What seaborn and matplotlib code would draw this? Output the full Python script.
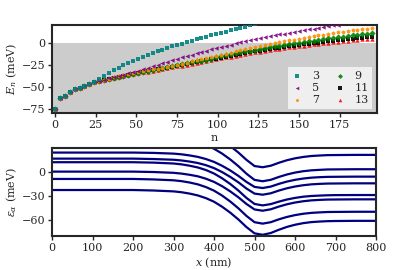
import numpy as np
import pandas as pd
import matplotlib
matplotlib.use("Agg")
import matplotlib.pyplot as plt
import seaborn as sns
from matplotlib.ticker import MultipleLocator

sns.set_style("ticks")
plt.rcParams["font.family"] = ["DejaVu Serif"]
plt.rcParams["mathtext.fontset"] = "dejavuserif"
plt.rcParams["font.size"] = 8
plt.rcParams["axes.linewidth"] = 1.5

# ---------------------------------------------------------------------------
# top panel: E_n vs n for several sizes
# ---------------------------------------------------------------------------
n_all = list(range(0, 196, 3))
start = [-75.6, -62.5, -61, -56.5, -53, -51, -49.2, -47.5, -45.2]

E3 = [-75.6, -62.5, -61, -56.5, -53, -51, -49.2, -47.5, -44.5,
      -41, -37.5, -34.5, -31.5, -28.5, -25.8, -23.2, -20.5, -18, -15.8,
      -13.6, -11.5, -9.6, -7.8, -6, -4.3, -2.6, -1, 0.6, 2.2,
      3.8, 5.3, 6.8, 8.3, 9.8, 11.2, 12.6, 14, 15.4, 16.8,
      18.2, 19.6, 21]
E5 = start + [-43.5, -42, -40.5, -39, -37.6, -36.2, -34.8, -33.4, -32, -30.5,
              -28.8, -27, -25.2, -23.4, -21.7, -20, -18.3, -16.7, -15.1, -13.5,
              -12, -10.5, -9, -7.6, -6.2, -4.8, -3.4, -2.1, -0.8, 0.4,
              1.6, 2.8, 4, 5.1, 6.2, 7.3, 8.4, 9.4, 10.4, 11.4,
              12.4, 13.3, 14.2, 15.1, 16, 16.9, 17.8, 18.7, 19.6, 20.5]
E7 = start + [-43.5, -42, -40.8, -39.6, -38.4, -37.2, -36, -34.9, -33.8, -32.7,
              -31.6, -30.5, -29.4, -28.3, -27.2, -26.1, -25, -23.8, -22.6, -21.4,
              -20.2, -19, -17.8, -16.5, -15.2, -13.9, -12.6, -11.3, -10, -8.8,
              -7.6, -6.4, -5.2, -4, -2.9, -1.8, -0.7, 0.4, 1.5, 2.5,
              3.5, 4.5, 5.5, 6.4, 7.3, 8.2, 9.1, 10, 10.8, 11.6,
              12.4, 13.2, 13.9, 14.6, 15.3, 15.9, 16.5]
E9 = start + [-43.6, -42.1, -40.9, -39.8, -38.6, -37.4, -36.2, -35.1, -34.1, -33.0,
              -31.9, -30.7, -29.7, -28.8, -27.8, -26.8, -25.8, -24.7, -23.6, -22.5,
              -21.4, -20.3, -19.2, -18, -16.8, -15.6, -14.4, -13.3, -12.2, -11.1,
              -10.0, -9.0, -8.0, -7.0, -6.0, -5.1, -4.2, -3.3, -2.4, -1.6,
              -0.8, 0, 0.8, 1.6, 2.4, 3.2, 4.0, 4.8, 5.5, 6.2,
              6.9, 7.6, 8.3, 9.0, 9.7, 10.3, 10.9]
E11 = start + [-43.7, -42.3, -41.1, -40, -38.9, -37.7, -36.6, -35.5, -34.5, -33.5,
               -32.4, -31.3, -30.3, -29.4, -28.5, -27.5, -26.5, -25.5, -24.4, -23.3,
               -22.3, -21.2, -20.2, -19.1, -18, -16.9, -15.8, -14.8, -13.8, -12.8,
               -11.8, -10.9, -10.0, -9.1, -8.2, -7.3, -6.5, -5.7, -4.9, -4.1,
               -3.4, -2.7, -2.0, -1.3, -0.6, 0.1, 0.8, 1.5, 2.1, 2.7,
               3.3, 3.9, 4.5, 5.1, 5.7, 6.2, 6.7]
E13 = start + [-43.8, -42.4, -41.3, -40.2, -39.1, -38, -36.9, -35.8, -34.8, -33.8,
               -32.8, -31.7, -30.7, -29.8, -28.9, -28, -27, -26, -25, -24,
               -23, -22, -21, -20, -18.9, -17.8, -16.8, -15.8, -14.8, -13.8,
               -12.9, -12, -11.1, -10.2, -9.3, -8.5, -7.7, -6.9, -6.1, -5.4,
               -4.7, -4.0, -3.3, -2.6, -1.9, -1.3, -0.7, -0.1, 0.5, 1.1,
               1.7, 2.2, 2.7, 3.2, 3.7, 4.1, 4.5]

sizes = ["3", "5", "7", "9", "11", "13"]
series = [E3, E5, E7, E9, E11, E13]
colors = ["teal", "purple", "darkorange", "green", "black", "red"]
markers = ["s", "<", "p", "D", "s", "^"]

# ---------------------------------------------------------------------------
# bottom panel: eps_alpha(x) levels
# ---------------------------------------------------------------------------
x_nm = [0, 100, 200, 250, 300, 320, 340, 360, 380, 400, 420, 440, 460, 480,
        500, 520, 540, 560, 580, 600, 620, 640, 660, 680, 700, 750, 800]
levels = [
    [60, 60, 60, 59.5, 58.4, 57.3, 55.7, 53.5, 50.2, 45.9, 39.9, 32.9, 24.8, 15.6,
     7.8, 6.3, 8.2, 11.9, 15.1, 17.5, 19.2, 20.4, 21.0, 21.5, 21.6, 21.8, 21.8],
    [44, 44, 44, 43.4, 42.3, 41.2, 39.5, 37.3, 34, 29.5, 23.4, 16.1, 7.7, -1.8,
     -9.6, -11.3, -9.5, -5.9, -2.8, -0.4, 1.3, 2.4, 3.0, 3.5, 3.6, 3.8, 3.8],
    [24.7, 24.7, 24.7, 24.3, 23.4, 22.5, 21.1, 19.3, 16.6, 13.0, 8.1, 2.3, -4.5, -12.1,
     -18.4, -19.8, -18.0, -14.6, -11.7, -9.5, -7.9, -6.8, -6.2, -5.8, -5.7, -5.5, -5.5],
    [17.1, 17.1, 17.1, 16.6, 15.7, 14.8, 13.4, 11.6, 8.9, 5.2, 0.2, -5.8, -12.6, -20.4,
     -26.8, -28.2, -26.4, -23.0, -20.1, -17.9, -16.3, -15.2, -14.6, -14.2, -14.1, -13.9, -13.9],
    [12.6, 12.6, 12.6, 12.1, 11.0, 9.9, 8.2, 6.0, 2.8, -1.6, -7.6, -14.7, -22.9, -32.2,
     -39.8, -41.6, -40.0, -36.9, -34.2, -32.2, -30.7, -29.8, -29.3, -28.9, -28.7, -28.6, -28.6],
    [0.8, 0.8, 0.8, 0.3, -0.7, -1.7, -3.2, -5.1, -8.1, -12.1, -17.5, -24, -31.4, -39.8,
     -46.7, -48.3, -46.5, -43.1, -40.2, -38.0, -36.4, -35.3, -34.7, -34.3, -34.2, -34, -34],
    [-8.4, -8.4, -8.4, -9.0, -10.1, -11.2, -12.9, -15.2, -18.6, -23.1, -29.3, -36.7, -45.2, -54.8,
     -62.7, -64.5, -62.7, -59.1, -56.1, -53.8, -52.1, -51.0, -50.4, -49.9, -49.8, -49.6, -49.6],
    [-22.3, -22.3, -22.3, -22.9, -24.0, -25.1, -26.8, -29.1, -32.5, -37.0, -43.3, -50.7, -59.2, -68.8,
     -76.7, -78.5, -76.3, -72.2, -68.6, -65.9, -63.9, -62.6, -61.9, -61.4, -61.2, -61, -61],
]

fig = plt.figure(figsize=(4.16, 2.70), dpi=100)
ax1 = fig.add_axes([0.125, 0.5815, 0.781, 0.3255])
ax2 = fig.add_axes([0.125, 0.126, 0.779, 0.326])

ax1.axhspan(-80, 0, color="#cccccc", lw=0, zorder=0)
# draw largest first so the small sizes sit on top
for lab, E, c, m in reversed(list(zip(sizes, series, colors, markers))):
    sns.scatterplot(x=n_all[:len(E)], y=E, color=c, marker=m, s=10,
                    linewidth=0, alpha=0.9, ax=ax1, label=lab, zorder=3)
h, l = ax1.get_legend_handles_labels()
order = [l.index(s) for s in sizes]
ax1.legend([h[i] for i in order], sizes, loc="lower right", ncol=2,
           fontsize=8, handlelength=1.0, handletextpad=0.8, labelspacing=0.15,
           columnspacing=1.4, borderpad=0.35, markerscale=0.8, fancybox=False,
           frameon=True, facecolor="white", edgecolor="none", framealpha=0.7,
           borderaxespad=0.4)
ax1.set_xlim(-2, 198)
ax1.set_ylim(-80, 20)
ax1.xaxis.set_major_locator(MultipleLocator(25))
ax1.yaxis.set_major_locator(MultipleLocator(25))
ax1.set_xlabel("n", labelpad=2)
ax1.set_ylabel("$E_n$ (meV)", labelpad=2)

df = pd.DataFrame({
    "x": x_nm * len(levels),
    "eps": [v for lev in levels for v in lev],
    "level": [i for i in range(len(levels)) for _ in x_nm],
})
sns.lineplot(data=df, x="x", y="eps", units="level", estimator=None,
             color="#000080", lw=1.6, ax=ax2)
ax2.set_xlim(0, 800)
ax2.set_ylim(-80, 30.5)
ax2.xaxis.set_major_locator(MultipleLocator(100))
ax2.set_yticks([-60, -30, 0])
ax2.set_xlabel("$x$ (nm)", labelpad=2)
ax2.set_ylabel(r"$\epsilon_\alpha$ (meV)", labelpad=2)

for ax in (ax1, ax2):
    ax.tick_params(length=3, width=1, labelsize=8, pad=2)

fig.savefig("out.png", dpi=100)
